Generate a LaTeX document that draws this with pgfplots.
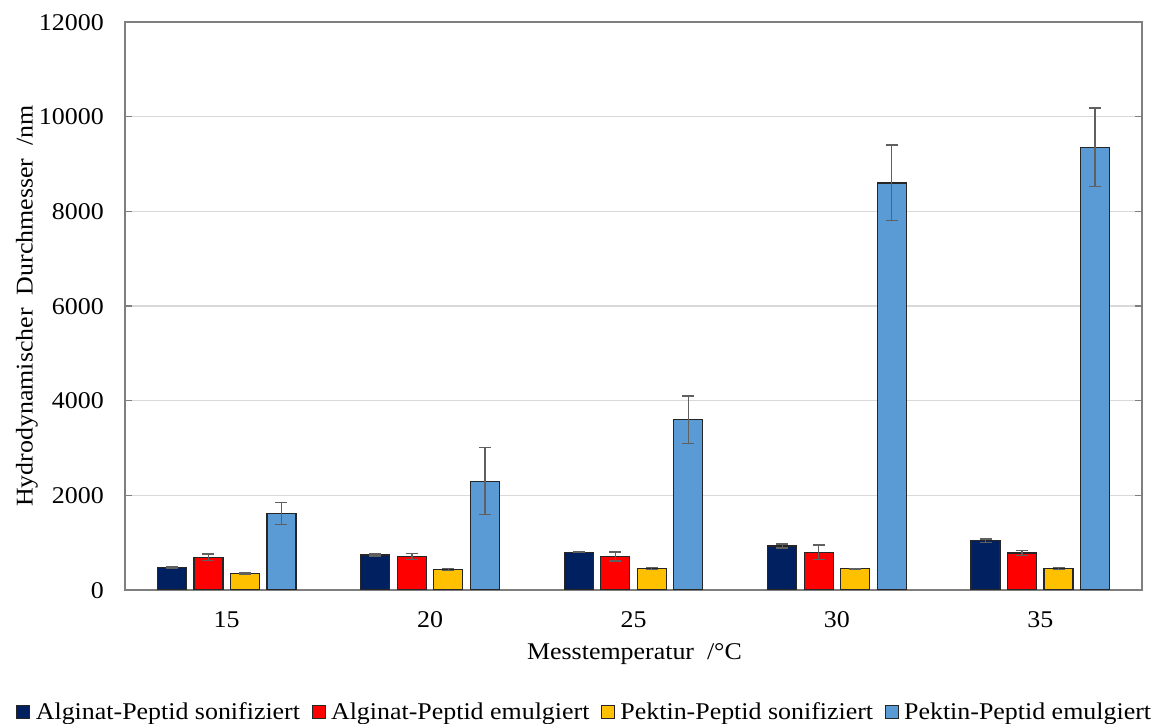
\documentclass[border=0pt]{standalone}
\usepackage{fontspec}
\setmainfont{Liberation Serif}[FakeStretch=1.08]
\usepackage{pgfplots}
\pgfplotsset{compat=1.18}
\definecolor{cnavy}{HTML}{002060}
\definecolor{cred}{HTML}{FF0000}
\definecolor{cyel}{HTML}{FFC000}
\definecolor{cblue}{HTML}{5B9BD5}
\definecolor{cgrid}{HTML}{D9D9D9}
\definecolor{caxis}{HTML}{7F7F7F}
\definecolor{cerr}{HTML}{606060}
\begin{document}
\begin{tikzpicture}
\begin{axis}[
  name=ax,
  scale only axis,
  width=1017pt, height=568pt,
  xmin=-0.5, xmax=4.5,
  ymin=0, ymax=12000,
  ytick={0,2000,4000,6000,8000,10000,12000},
  xtick={0,1,2,3,4},
  xticklabels={15,20,25,30,35},
  ymajorgrids,
  grid style={cgrid, line width=1.2pt},
  axis line style={caxis, line width=1.2pt},
  major tick length=7pt,
  tick align=inside,
  ytick style={caxis, line width=1.2pt},
  xtick style={draw=none},
  /pgf/number format/assume math mode=true,
  /pgf/number format/1000 sep={},
  scaled y ticks=false,
  font=\fontsize{24}{28}\selectfont,
  yticklabel style={anchor=base east, inner sep=0pt, xshift=-21pt, yshift=-8.2pt},
  xticklabel style={anchor=base, inner sep=0pt, yshift=-30.5pt},
  xlabel={Messtemperatur\ \ /°C},
  ylabel={Hydrodynamischer\ \ Durchmesser\ \ /nm},
  every axis x label/.style={at={(axis description cs:0.5,0)}, anchor=center, xshift=1pt, yshift=-64pt},
  every axis y label/.style={at={(axis description cs:-0.0964,0.5)}, anchor=center, rotate=90},
  ybar=7.5pt,
  bar width=29pt,
  legend columns=4,
  legend style={at={(axis description cs:0.4518,-0.215)}, anchor=center, draw=none, fill=none,
    font=\fontsize{24}{28}\selectfont,
    nodes={inner sep=1.5pt},
    /tikz/every even column/.append style={column sep=3pt}},
  legend image code/.code={\draw[#1, line width=1pt] (0pt,-6.5pt) rectangle (13pt,6.5pt);},
  error bars/error bar style={cerr, line width=1.3pt},
  error bars/error mark options={rotate=90, mark size=6pt, cerr, line width=1.3pt},
]
\addplot[fill=cnavy, draw=black!85, line width=1.2pt, error bars/.cd, y dir=both, y explicit]
  coordinates {(0,480) +- (0,15) (1,740) +- (0,20) (2,800) +- (0,15) (3,930) +- (0,40) (4,1040) +- (0,40)};
\addplot[fill=cred, draw=black!85, line width=1.2pt, error bars/.cd, y dir=both, y explicit]
  coordinates {(0,690) +- (0,70) (1,710) +- (0,60) (2,710) +- (0,95) (3,800) +- (0,150) (4,780) +- (0,50)};
\addplot[fill=cyel, draw=black!85, line width=1.2pt, error bars/.cd, y dir=both, y explicit]
  coordinates {(0,350) +- (0,15) (1,430) +- (0,25) (2,450) +- (0,20) (3,450) +- (0,10) (4,450) +- (0,20)};
\addplot[fill=cblue, draw=black!85, line width=1.2pt, error bars/.cd, y dir=both, y explicit]
  coordinates {(0,1620) +- (0,230) (1,2300) +- (0,710) (2,3600) +- (0,500) (3,8600) +- (0,800) (4,9350) +- (0,830)};
\legend{\rule{4pt}{0pt}Alginat-Peptid sonifiziert\rule{7pt}{0pt}, \rule{4pt}{0pt}Alginat-Peptid emulgiert\rule{7pt}{0pt}, \rule{4pt}{0pt}Pektin-Peptid sonifiziert\rule{7pt}{0pt}, \rule{4pt}{0pt}Pektin-Peptid emulgiert}
\end{axis}
\pgfresetboundingbox
\path[use as bounding box] ([shift={(-125pt,-134pt)}]ax.south west) rectangle ([shift={(12pt,22pt)}]ax.north east);
\end{tikzpicture}
\end{document}
